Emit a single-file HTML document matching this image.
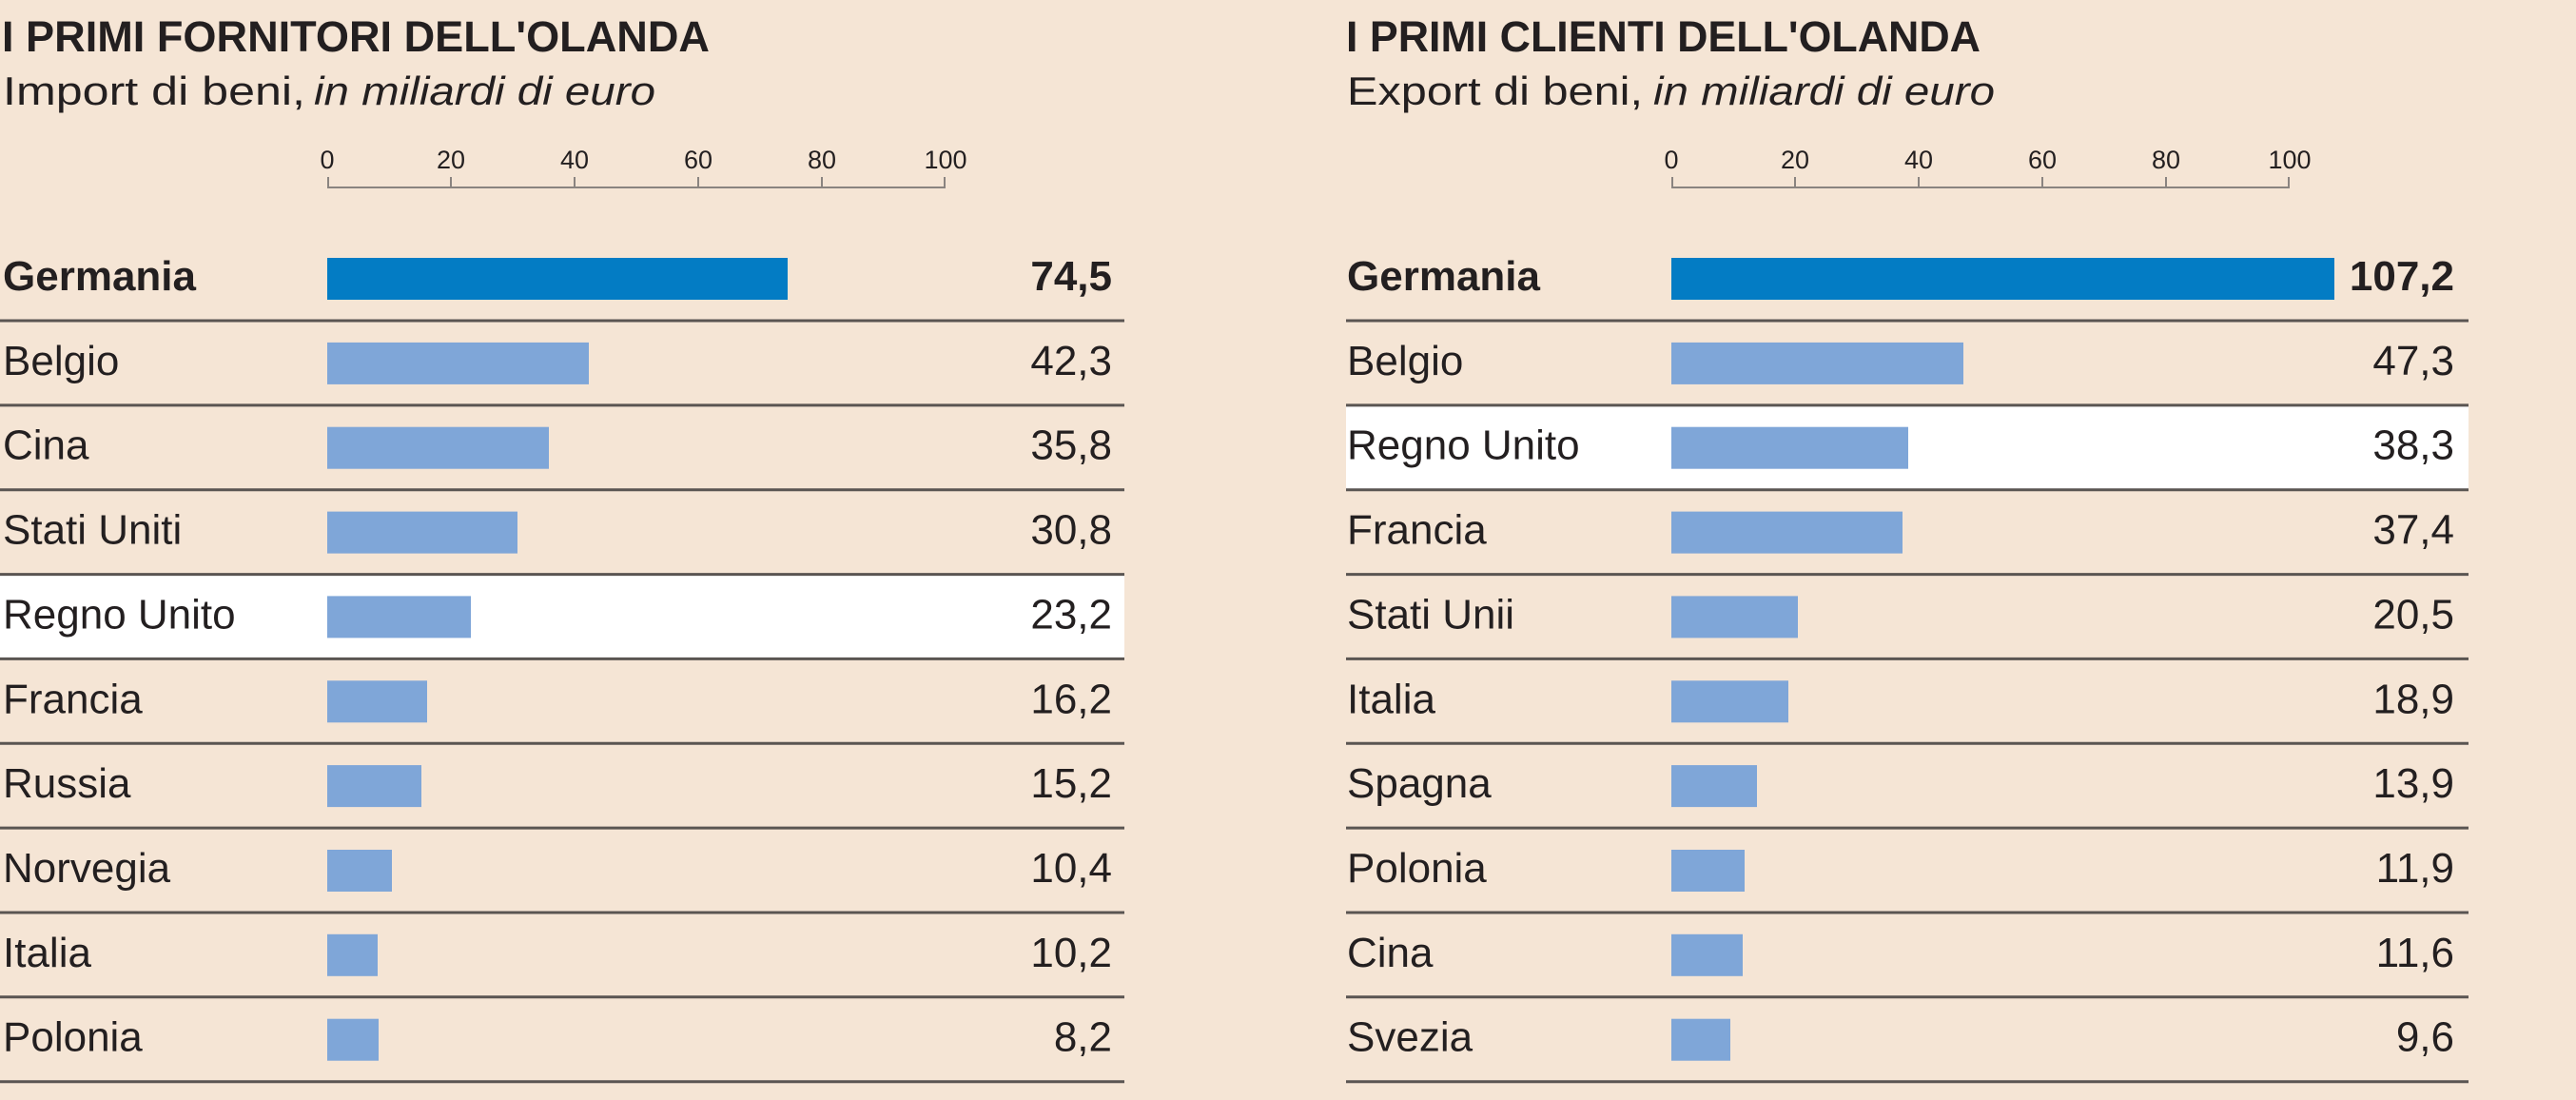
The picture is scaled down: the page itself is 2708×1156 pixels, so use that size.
<!DOCTYPE html>
<html><head><meta charset="utf-8">
<style>
html,body{margin:0;padding:0;background:#f5e5d5;}
svg{display:block;}
text{font-family:"Liberation Sans",Arial,sans-serif;fill:#231f20;}
</style></head>
<body>
<svg width="2708" height="1156" viewBox="0 0 2708 1156" xmlns="http://www.w3.org/2000/svg">
<rect width="2708" height="1156" fill="#f5e5d5"/>
<!-- highlights -->
<rect x="0" y="603.5" width="1182" height="88" fill="#ffffff"/>
<rect x="1415" y="425.7" width="1180" height="88" fill="#ffffff"/>

<!-- LEFT titles -->
<text x="2" y="54" font-size="45" font-weight="bold" textLength="744" lengthAdjust="spacingAndGlyphs">I PRIMI FORNITORI DELL'OLANDA</text>
<text x="3" y="110" font-size="42" textLength="318" lengthAdjust="spacingAndGlyphs">Import di beni,</text>
<text x="330" y="110" font-size="42" font-style="italic" textLength="359" lengthAdjust="spacingAndGlyphs">in miliardi di euro</text>
<!-- RIGHT titles -->
<text x="1415" y="54" font-size="45" font-weight="bold" textLength="667" lengthAdjust="spacingAndGlyphs">I PRIMI CLIENTI DELL'OLANDA</text>
<text x="1416" y="110" font-size="42" textLength="311" lengthAdjust="spacingAndGlyphs">Export di beni,</text>
<text x="1738" y="110" font-size="42" font-style="italic" textLength="359" lengthAdjust="spacingAndGlyphs">in miliardi di euro</text>

<!-- axes -->
<g stroke="#8a8480" stroke-width="2" fill="none">
<line x1="344" y1="197" x2="994" y2="197"/>
<line x1="345" y1="186" x2="345" y2="197"/><line x1="474" y1="186" x2="474" y2="197"/><line x1="604" y1="186" x2="604" y2="197"/><line x1="734" y1="186" x2="734" y2="197"/><line x1="864" y1="186" x2="864" y2="197"/><line x1="993" y1="186" x2="993" y2="197"/>
<line x1="1757" y1="197" x2="2407" y2="197"/>
<line x1="1758" y1="186" x2="1758" y2="197"/><line x1="1887" y1="186" x2="1887" y2="197"/><line x1="2017" y1="186" x2="2017" y2="197"/><line x1="2147" y1="186" x2="2147" y2="197"/><line x1="2277" y1="186" x2="2277" y2="197"/><line x1="2406" y1="186" x2="2406" y2="197"/>
</g>
<g font-size="27" text-anchor="middle" style="fill:#3a3533">
<text x="344" y="177">0</text><text x="474" y="177">20</text><text x="604" y="177">40</text><text x="734" y="177">60</text><text x="864" y="177">80</text><text x="994" y="177">100</text>
<text x="1757" y="177">0</text><text x="1887" y="177">20</text><text x="2017" y="177">40</text><text x="2147" y="177">60</text><text x="2277" y="177">80</text><text x="2407" y="177">100</text>
</g>

<!-- separators -->
<g stroke="#5a5552" stroke-width="3">
<line x1="0" y1="337" x2="1182" y2="337"/><line x1="0" y1="425.9" x2="1182" y2="425.9"/><line x1="0" y1="514.7" x2="1182" y2="514.7"/><line x1="0" y1="603.6" x2="1182" y2="603.6"/><line x1="0" y1="692.4" x2="1182" y2="692.4"/><line x1="0" y1="781.3" x2="1182" y2="781.3"/><line x1="0" y1="870.1" x2="1182" y2="870.1"/><line x1="0" y1="959" x2="1182" y2="959"/><line x1="0" y1="1047.8" x2="1182" y2="1047.8"/><line x1="0" y1="1136.7" x2="1182" y2="1136.7"/>
<line x1="1415" y1="337" x2="2595" y2="337"/><line x1="1415" y1="425.9" x2="2595" y2="425.9"/><line x1="1415" y1="514.7" x2="2595" y2="514.7"/><line x1="1415" y1="603.6" x2="2595" y2="603.6"/><line x1="1415" y1="692.4" x2="2595" y2="692.4"/><line x1="1415" y1="781.3" x2="2595" y2="781.3"/><line x1="1415" y1="870.1" x2="2595" y2="870.1"/><line x1="1415" y1="959" x2="2595" y2="959"/><line x1="1415" y1="1047.8" x2="2595" y2="1047.8"/><line x1="1415" y1="1136.7" x2="2595" y2="1136.7"/>
</g>

<!-- LEFT bars -->
<rect x="344" y="271" width="484" height="44" fill="#037cc4"/>
<g fill="#7fa6d8">
<rect x="344" y="359.9" width="275" height="44"/>
<rect x="344" y="448.7" width="233" height="44"/>
<rect x="344" y="537.6" width="200" height="44"/>
<rect x="344" y="626.4" width="151" height="44"/>
<rect x="344" y="715.3" width="105" height="44"/>
<rect x="344" y="804.1" width="99" height="44"/>
<rect x="344" y="893" width="68" height="44"/>
<rect x="344" y="981.8" width="53" height="44"/>
<rect x="344" y="1070.7" width="54" height="44"/>
</g>
<!-- RIGHT bars -->
<rect x="1757" y="271" width="697" height="44" fill="#037cc4"/>
<g fill="#7fa6d8">
<rect x="1757" y="359.9" width="307" height="44"/>
<rect x="1757" y="448.7" width="249" height="44"/>
<rect x="1757" y="537.6" width="243" height="44"/>
<rect x="1757" y="626.4" width="133" height="44"/>
<rect x="1757" y="715.3" width="123" height="44"/>
<rect x="1757" y="804.1" width="90" height="44"/>
<rect x="1757" y="893" width="77" height="44"/>
<rect x="1757" y="981.8" width="75" height="44"/>
<rect x="1757" y="1070.7" width="62" height="44"/>
</g>

<!-- LEFT labels -->
<g font-size="44">
<text x="3" y="305" font-weight="bold">Germania</text>
<text x="3" y="393.9">Belgio</text>
<text x="3" y="482.7">Cina</text>
<text x="3" y="571.6">Stati Uniti</text>
<text x="3" y="660.4">Regno Unito</text>
<text x="3" y="749.3">Francia</text>
<text x="3" y="838.1">Russia</text>
<text x="3" y="927">Norvegia</text>
<text x="3" y="1015.8">Italia</text>
<text x="3" y="1104.7">Polonia</text>
</g>
<g font-size="44" text-anchor="end">
<text x="1169" y="305" font-weight="bold">74,5</text>
<text x="1169" y="393.9">42,3</text>
<text x="1169" y="482.7">35,8</text>
<text x="1169" y="571.6">30,8</text>
<text x="1169" y="660.4">23,2</text>
<text x="1169" y="749.3">16,2</text>
<text x="1169" y="838.1">15,2</text>
<text x="1169" y="927">10,4</text>
<text x="1169" y="1015.8">10,2</text>
<text x="1169" y="1104.7">8,2</text>
</g>

<!-- RIGHT labels -->
<g font-size="44">
<text x="1416" y="305" font-weight="bold">Germania</text>
<text x="1416" y="393.9">Belgio</text>
<text x="1416" y="482.7">Regno Unito</text>
<text x="1416" y="571.6">Francia</text>
<text x="1416" y="660.4">Stati Unii</text>
<text x="1416" y="749.3">Italia</text>
<text x="1416" y="838.1">Spagna</text>
<text x="1416" y="927">Polonia</text>
<text x="1416" y="1015.8">Cina</text>
<text x="1416" y="1104.7">Svezia</text>
</g>
<g font-size="44" text-anchor="end">
<text x="2580" y="305" font-weight="bold">107,2</text>
<text x="2580" y="393.9">47,3</text>
<text x="2580" y="482.7">38,3</text>
<text x="2580" y="571.6">37,4</text>
<text x="2580" y="660.4">20,5</text>
<text x="2580" y="749.3">18,9</text>
<text x="2580" y="838.1">13,9</text>
<text x="2580" y="927">11,9</text>
<text x="2580" y="1015.8">11,6</text>
<text x="2580" y="1104.7">9,6</text>
</g>
</svg>
</body></html>
